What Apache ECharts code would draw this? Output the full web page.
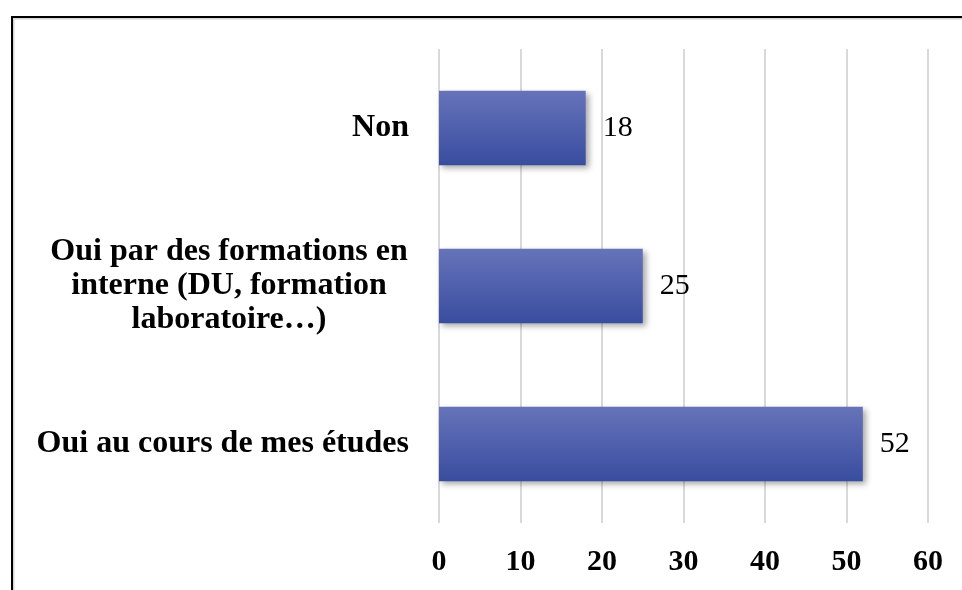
<!DOCTYPE html>
<html>
<head>
<meta charset="utf-8">
<script src="https://cdn.jsdelivr.net/npm/echarts@6/dist/echarts.min.js"></script>
<style>
html,body{margin:0;padding:0;background:#fff;}
#chart{width:962px;height:590px;}
</style>
</head>
<body>
<div id="chart"></div>
<script>
var categories = ['Oui au cours de mes études', 'Oui par des formations en\ninterne (DU, formation\nlaboratoire…)', 'Non'];
var values = [52, 25, 18];
var xTicks = [0, 10, 20, 30, 40, 50, 60];

var chart = echarts.init(document.getElementById('chart'), null, {renderer: 'canvas'});
var serif = '"Liberation Serif", "Times New Roman", serif';

chart.setOption({
  animation: false,
  backgroundColor: '#ffffff',
  graphic: [
    {type: 'polyline', silent: true, shape: {points: [[13.5, 600], [13.5, 18.5], [970, 18.5]]},
     style: {stroke: '#d4d4d4', lineWidth: 2, fill: null}},
    {type: 'polyline', silent: true, shape: {points: [[12, 600], [12, 17], [970, 17]]},
     style: {stroke: '#000000', lineWidth: 2, fill: null}}
  ],
  grid: {left: 439, right: 34, top: 49, bottom: 67, containLabel: false},
  xAxis: {
    type: 'value',
    min: xTicks[0],
    max: xTicks[xTicks.length - 1],
    interval: 10,
    axisLine: {show: false},
    axisTick: {show: false},
    splitLine: {show: true, lineStyle: {color: '#d9d9d9', width: 2}},
    axisLabel: {
      margin: 24,
      fontFamily: serif, fontWeight: 'bold', fontSize: 30, color: '#000'
    }
  },
  yAxis: {
    type: 'category',
    data: categories,
    axisLine: {show: false},
    axisTick: {show: false},
    splitLine: {show: false},
    axisLabel: {
      margin: 30,
      fontFamily: serif, fontWeight: 'bold', fontSize: 32, color: '#000',
      lineHeight: 34,
      formatter: function (v) {
        if (v.indexOf('\n') >= 0) {
          return v.split('\n').map(function (l) { return '{m|' + l + '}'; }).join('\n');
        }
        return v;
      },
      rich: {
        m: {width: 360, align: 'center', fontFamily: serif, fontWeight: 'bold', fontSize: 32, color: '#000', lineHeight: 34}
      }
    }
  },
  series: [{
    type: 'bar',
    data: values,
    barWidth: '47%',
    itemStyle: {
      color: new echarts.graphic.LinearGradient(0, 0, 0, 1, [
        {offset: 0, color: '#6673BA'},
        {offset: 1, color: '#394D9F'}
      ]),
      shadowColor: 'rgba(0,0,0,0.35)',
      shadowBlur: 6,
      shadowOffsetX: 3,
      shadowOffsetY: 3
    },
    label: {
      show: true,
      position: 'right',
      distance: 17,
      fontFamily: serif, fontSize: 30, color: '#000'
    }
  }]
});
</script>
</body>
</html>
